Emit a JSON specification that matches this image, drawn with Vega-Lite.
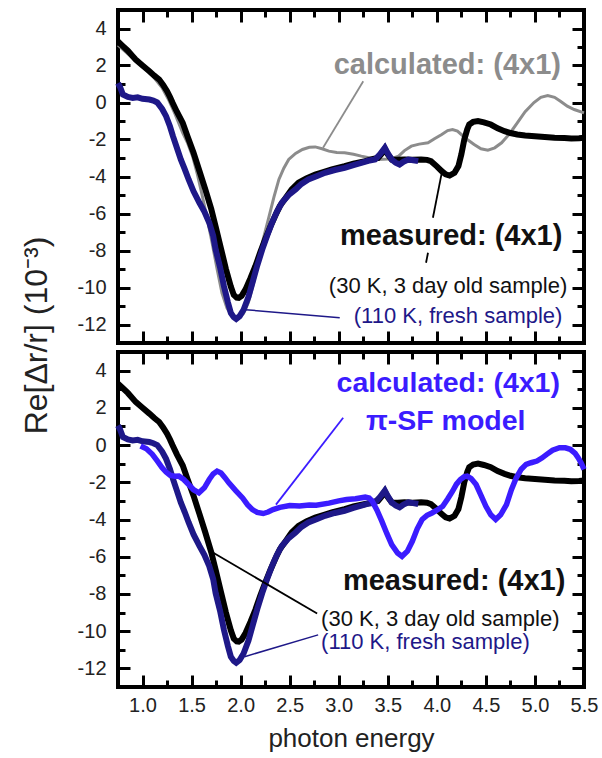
{
  "$schema": "https://vega.github.io/schema/vega-lite/v6.json",
  "padding": {"left": 17, "top": 6, "right": 0, "bottom": 0},
  "background": "white",
  "bounds": "flush",
  "config": {
    "font": "Liberation Sans",
    "view": {"stroke": "black", "strokeWidth": 4},
    "axis": {"grid": false, "domain": false, "tickColor": "black", "tickWidth": 3, "labelFont": "Liberation Sans", "labelFontSize": 20, "labelColor": "#222222", "labelFlush": false, "titleFont": "Liberation Sans", "titleFontWeight": "normal", "titleColor": "#222222"}
  },
  "datasets": {
    "m30": [
      {"x":0.75,"y":3.3},{"x":0.8,"y":3.05},{"x":0.85,"y":2.8},{"x":0.9,"y":2.5},{"x":0.93,"y":2.32},{"x":1.0,"y":2.0},{"x":1.07,"y":1.69},{"x":1.12,"y":1.45},{"x":1.17,"y":1.24},{"x":1.21,"y":0.95},{"x":1.25,"y":0.61},{"x":1.28,"y":0.3},{"x":1.305,"y":0.0},{"x":1.35,"y":-0.5},{"x":1.41,"y":-1.1},{"x":1.46,"y":-1.85},{"x":1.52,"y":-2.72},{"x":1.58,"y":-3.7},{"x":1.64,"y":-4.7},{"x":1.7,"y":-5.75},{"x":1.745,"y":-6.7},{"x":1.8,"y":-7.9},{"x":1.85,"y":-9.0},{"x":1.9,"y":-9.95},{"x":1.93,"y":-10.4},{"x":1.96,"y":-10.55},{"x":1.98,"y":-10.56},{"x":2.01,"y":-10.45},{"x":2.05,"y":-10.1},{"x":2.1,"y":-9.5},{"x":2.15,"y":-8.85},{"x":2.2,"y":-8.1},{"x":2.25,"y":-7.4},{"x":2.3,"y":-6.75},{"x":2.35,"y":-6.15},{"x":2.4,"y":-5.6},{"x":2.46,"y":-5.15},{"x":2.52,"y":-4.7},{"x":2.59,"y":-4.34},{"x":2.67,"y":-4.1},{"x":2.76,"y":-3.89},{"x":2.85,"y":-3.75},{"x":2.93,"y":-3.62},{"x":3.0,"y":-3.52},{"x":3.06,"y":-3.44},{"x":3.15,"y":-3.3},{"x":3.27,"y":-3.17},{"x":3.35,"y":-3.05},{"x":3.4,"y":-3.0},{"x":3.44,"y":-2.75},{"x":3.47,"y":-2.5},{"x":3.5,"y":-2.8},{"x":3.54,"y":-3.08},{"x":3.6,"y":-3.1},{"x":3.67,"y":-3.08},{"x":3.75,"y":-3.1},{"x":3.84,"y":-3.08},{"x":3.9,"y":-3.1},{"x":3.94,"y":-3.17},{"x":4.0,"y":-3.45},{"x":4.05,"y":-3.71},{"x":4.09,"y":-3.88},{"x":4.13,"y":-3.95},{"x":4.18,"y":-3.8},{"x":4.22,"y":-3.44},{"x":4.25,"y":-2.8},{"x":4.28,"y":-2.0},{"x":4.31,"y":-1.45},{"x":4.33,"y":-1.19},{"x":4.37,"y":-1.05},{"x":4.42,"y":-1.0},{"x":4.48,"y":-1.07},{"x":4.55,"y":-1.19},{"x":4.62,"y":-1.4},{"x":4.69,"y":-1.55},{"x":4.75,"y":-1.65},{"x":4.82,"y":-1.73},{"x":4.9,"y":-1.78},{"x":5.0,"y":-1.82},{"x":5.1,"y":-1.86},{"x":5.2,"y":-1.9},{"x":5.3,"y":-1.92},{"x":5.37,"y":-1.95},{"x":5.45,"y":-1.93},{"x":5.5,"y":-1.9}
    ],
    "m110": [
      {"x":0.75,"y":1.05},{"x":0.77,"y":0.85},{"x":0.8,"y":0.43},{"x":0.85,"y":0.3},{"x":0.9,"y":0.25},{"x":0.95,"y":0.28},{"x":1.0,"y":0.2},{"x":1.07,"y":0.16},{"x":1.11,"y":0.1},{"x":1.15,"y":0.0},{"x":1.2,"y":-0.35},{"x":1.24,"y":-0.74},{"x":1.28,"y":-1.3},{"x":1.31,"y":-1.82},{"x":1.35,"y":-2.45},{"x":1.39,"y":-3.08},{"x":1.43,"y":-3.6},{"x":1.47,"y":-4.16},{"x":1.52,"y":-4.8},{"x":1.58,"y":-5.42},{"x":1.63,"y":-5.9},{"x":1.68,"y":-6.5},{"x":1.72,"y":-7.2},{"x":1.745,"y":-7.95},{"x":1.79,"y":-8.9},{"x":1.83,"y":-9.93},{"x":1.87,"y":-10.8},{"x":1.9,"y":-11.37},{"x":1.93,"y":-11.6},{"x":1.955,"y":-11.7},{"x":1.99,"y":-11.55},{"x":2.03,"y":-11.2},{"x":2.08,"y":-10.5},{"x":2.12,"y":-9.75},{"x":2.17,"y":-8.8},{"x":2.22,"y":-7.95},{"x":2.27,"y":-7.2},{"x":2.32,"y":-6.5},{"x":2.37,"y":-5.9},{"x":2.42,"y":-5.42},{"x":2.49,"y":-5.0},{"x":2.56,"y":-4.7},{"x":2.62,"y":-4.4},{"x":2.69,"y":-4.16},{"x":2.78,"y":-3.97},{"x":2.86,"y":-3.8},{"x":2.96,"y":-3.65},{"x":3.06,"y":-3.53},{"x":3.15,"y":-3.38},{"x":3.23,"y":-3.26},{"x":3.3,"y":-3.15},{"x":3.37,"y":-3.08},{"x":3.42,"y":-2.8},{"x":3.47,"y":-2.45},{"x":3.5,"y":-2.75},{"x":3.54,"y":-3.08},{"x":3.58,"y":-3.25},{"x":3.62,"y":-3.35},{"x":3.66,"y":-3.2},{"x":3.71,"y":-3.08},{"x":3.76,"y":-3.12},{"x":3.81,"y":-3.17}
    ],
    "calcTop": [
      {"x":0.75,"y":3.1},{"x":0.9,"y":2.4},{"x":1.0,"y":1.95},{"x":1.1,"y":1.45},{"x":1.2,"y":0.8},{"x":1.27,"y":0.1},{"x":1.33,"y":-0.6},{"x":1.41,"y":-1.64},{"x":1.46,"y":-2.2},{"x":1.51,"y":-2.9},{"x":1.56,"y":-3.9},{"x":1.61,"y":-5.06},{"x":1.66,"y":-6.3},{"x":1.71,"y":-7.6},{"x":1.76,"y":-9.0},{"x":1.81,"y":-10.3},{"x":1.86,"y":-11.1},{"x":1.91,"y":-11.55},{"x":1.98,"y":-11.65},{"x":2.03,"y":-11.4},{"x":2.08,"y":-10.8},{"x":2.13,"y":-9.8},{"x":2.18,"y":-8.67},{"x":2.23,"y":-7.4},{"x":2.29,"y":-6.15},{"x":2.34,"y":-5.1},{"x":2.39,"y":-4.16},{"x":2.44,"y":-3.55},{"x":2.49,"y":-3.08},{"x":2.56,"y":-2.75},{"x":2.63,"y":-2.54},{"x":2.7,"y":-2.42},{"x":2.76,"y":-2.4},{"x":2.83,"y":-2.5},{"x":2.9,"y":-2.63},{"x":2.98,"y":-2.7},{"x":3.06,"y":-2.72},{"x":3.15,"y":-2.8},{"x":3.23,"y":-2.9},{"x":3.32,"y":-3.0},{"x":3.4,"y":-3.08},{"x":3.5,"y":-3.05},{"x":3.56,"y":-3.0},{"x":3.61,"y":-2.9},{"x":3.67,"y":-2.6},{"x":3.74,"y":-2.36},{"x":3.82,"y":-2.25},{"x":3.91,"y":-2.18},{"x":3.98,"y":-1.95},{"x":4.05,"y":-1.73},{"x":4.11,"y":-1.52},{"x":4.16,"y":-1.46},{"x":4.21,"y":-1.55},{"x":4.25,"y":-1.73},{"x":4.31,"y":-2.0},{"x":4.38,"y":-2.27},{"x":4.45,"y":-2.5},{"x":4.52,"y":-2.58},{"x":4.59,"y":-2.45},{"x":4.66,"y":-2.18},{"x":4.74,"y":-1.7},{"x":4.82,"y":-1.1},{"x":4.9,"y":-0.5},{"x":4.99,"y":0.0},{"x":5.06,"y":0.28},{"x":5.13,"y":0.38},{"x":5.2,"y":0.28},{"x":5.26,"y":0.07},{"x":5.33,"y":-0.2},{"x":5.4,"y":-0.38},{"x":5.5,"y":-0.56}
    ],
    "calcBottom": [
      {"x":0.98,"y":-0.05},{"x":1.04,"y":-0.2},{"x":1.1,"y":-0.5},{"x":1.15,"y":-0.85},{"x":1.2,"y":-1.22},{"x":1.24,"y":-1.45},{"x":1.28,"y":-1.62},{"x":1.33,"y":-1.68},{"x":1.37,"y":-1.67},{"x":1.42,"y":-1.85},{"x":1.47,"y":-2.12},{"x":1.52,"y":-2.4},{"x":1.575,"y":-2.57},{"x":1.63,"y":-2.3},{"x":1.68,"y":-1.85},{"x":1.72,"y":-1.55},{"x":1.76,"y":-1.4},{"x":1.8,"y":-1.5},{"x":1.84,"y":-1.75},{"x":1.88,"y":-2.03},{"x":1.95,"y":-2.45},{"x":2.02,"y":-2.84},{"x":2.07,"y":-3.2},{"x":2.12,"y":-3.47},{"x":2.17,"y":-3.62},{"x":2.23,"y":-3.68},{"x":2.28,"y":-3.6},{"x":2.33,"y":-3.47},{"x":2.4,"y":-3.35},{"x":2.5,"y":-3.25},{"x":2.6,"y":-3.27},{"x":2.7,"y":-3.22},{"x":2.77,"y":-3.23},{"x":2.9,"y":-3.12},{"x":3.0,"y":-3.0},{"x":3.08,"y":-2.93},{"x":3.17,"y":-2.88},{"x":3.27,"y":-2.8},{"x":3.31,"y":-2.85},{"x":3.34,"y":-3.0},{"x":3.39,"y":-3.5},{"x":3.44,"y":-4.1},{"x":3.49,"y":-4.75},{"x":3.54,"y":-5.35},{"x":3.6,"y":-5.8},{"x":3.645,"y":-5.98},{"x":3.7,"y":-5.7},{"x":3.75,"y":-5.17},{"x":3.8,"y":-4.5},{"x":3.85,"y":-4.0},{"x":3.9,"y":-3.78},{"x":3.95,"y":-3.65},{"x":4.0,"y":-3.5},{"x":4.06,"y":-3.29},{"x":4.11,"y":-2.9},{"x":4.16,"y":-2.48},{"x":4.2,"y":-2.1},{"x":4.24,"y":-1.85},{"x":4.28,"y":-1.7},{"x":4.31,"y":-1.67},{"x":4.35,"y":-1.8},{"x":4.4,"y":-2.12},{"x":4.45,"y":-2.7},{"x":4.5,"y":-3.29},{"x":4.55,"y":-3.75},{"x":4.6,"y":-4.0},{"x":4.65,"y":-3.75},{"x":4.71,"y":-3.2},{"x":4.76,"y":-2.4},{"x":4.81,"y":-1.76},{"x":4.86,"y":-1.3},{"x":4.91,"y":-1.04},{"x":4.96,"y":-0.95},{"x":5.02,"y":-0.86},{"x":5.07,"y":-0.7},{"x":5.12,"y":-0.5},{"x":5.18,"y":-0.28},{"x":5.25,"y":-0.14},{"x":5.31,"y":-0.15},{"x":5.36,"y":-0.23},{"x":5.41,"y":-0.45},{"x":5.44,"y":-0.68},{"x":5.47,"y":-0.95},{"x":5.5,"y":-1.31}
    ]
  },
  "spacing": 9,
  "vconcat": [
    {
      "width": 466, "height": 333,
      "resolve": {"axis": {"x": "independent", "y": "independent"}},
      "layer": [
        {"mark": {"type": "rule", "color": "black", "strokeWidth": 2.5},
         "encoding": {"y": {"datum": 0, "type": "quantitative", "scale": {"domain": [-13, 5], "nice": false, "zero": false}, "axis": null}}},
        {"data": {"name": "calcTop"}, "mark": {"type": "line", "color": "#8c8c8c", "strokeWidth": 3},
         "encoding": {
           "x": {"field": "x", "type": "quantitative", "scale": {"domain": [0.75, 5.5], "nice": false, "zero": false}, "axis": {"orient": "top", "values": [1,1.5,2,2.5,3,3.5,4,4.5,5,5.5], "tickSize": -12, "labels": false, "title": null}},
           "y": {"field": "y", "type": "quantitative", "scale": {"domain": [-13, 5], "nice": false, "zero": false}, "axis": {"orient": "right", "values": [-12,-10,-8,-6,-4,-2,0,2,4], "tickSize": -12, "labels": false, "title": null}}
         }},
        {"data": {"name": "m30"}, "mark": {"type": "line", "color": "black", "strokeWidth": 6},
         "encoding": {
           "x": {"field": "x", "type": "quantitative", "scale": {"domain": [0.75, 5.5], "nice": false, "zero": false}, "axis": {"orient": "bottom", "values": [1,1.5,2,2.5,3,3.5,4,4.5,5,5.5], "tickSize": -12, "labels": false, "title": null}},
           "y": {"field": "y", "type": "quantitative", "scale": {"domain": [-13, 5], "nice": false, "zero": false}, "axis": {"orient": "left", "values": [-12,-10,-8,-6,-4,-2,0,2,4], "tickSize": -12, "labelPadding": 24, "labelExpr": "datum.value < 0 ? '-' + abs(datum.value) : '' + datum.value", "title": null}}
         }},
        {"data": {"name": "m110"}, "mark": {"type": "line", "color": "#1e1888", "strokeWidth": 6},
         "encoding": {
           "x": {"field": "x", "type": "quantitative", "scale": {"domain": [0.75, 5.5], "nice": false, "zero": false}, "axis": {"orient": "bottom", "values": [1.25,1.75,2.25,2.75,3.25,3.75,4.25,4.75,5.25], "tickSize": -7, "labels": false, "title": null}},
           "y": {"field": "y", "type": "quantitative", "scale": {"domain": [-13, 5], "nice": false, "zero": false}, "axis": {"orient": "left", "values": [-11,-9,-7,-5,-3,-1,1,3], "tickSize": -7, "labels": false, "title": null}}
         }},
        {"data": {"values": [{"x1": 3.25, "y1": 1.15, "x2": 2.84, "y2": -2.45}]},
         "mark": {"type": "rule", "color": "#8c8c8c", "strokeWidth": 1.8},
         "encoding": {
           "x": {"field": "x1", "type": "quantitative", "scale": {"domain": [0.75, 5.5], "nice": false, "zero": false}, "axis": null},
           "y": {"field": "y1", "type": "quantitative", "scale": {"domain": [-13, 5], "nice": false, "zero": false}, "axis": null},
           "x2": {"field": "x2"}, "y2": {"field": "y2"}
         }},
        {"data": {"values": [{"x1": 4.05, "y1": -3.8, "x2": 3.96, "y2": -6.23}, {"x1": 3.91, "y1": -8.12, "x2": 3.89, "y2": -8.66}]},
         "mark": {"type": "rule", "color": "black", "strokeWidth": 1.8},
         "encoding": {
           "x": {"field": "x1", "type": "quantitative", "scale": {"domain": [0.75, 5.5], "nice": false, "zero": false}, "axis": null},
           "y": {"field": "y1", "type": "quantitative", "scale": {"domain": [-13, 5], "nice": false, "zero": false}, "axis": null},
           "x2": {"field": "x2"}, "y2": {"field": "y2"}
         }},
        {"data": {"values": [{"x1": 2.05, "y1": -11.2, "x2": 3.01, "y2": -11.64}]},
         "mark": {"type": "rule", "color": "#1e1888", "strokeWidth": 1.5},
         "encoding": {
           "x": {"field": "x1", "type": "quantitative", "scale": {"domain": [0.75, 5.5], "nice": false, "zero": false}, "axis": null},
           "y": {"field": "y1", "type": "quantitative", "scale": {"domain": [-13, 5], "nice": false, "zero": false}, "axis": null},
           "x2": {"field": "x2"}, "y2": {"field": "y2"}
         }},
        {"data": {"values": [{"x": 5.265, "y": 2.05, "label": "calculated: (4x1)"}]},
         "mark": {"type": "text", "align": "right", "baseline": "middle", "fontSize": 29, "fontWeight": "bold", "color": "#8c8c8c"},
         "encoding": {
           "x": {"field": "x", "type": "quantitative", "scale": {"domain": [0.75, 5.5], "nice": false, "zero": false}, "axis": {"orient": "top", "values": [1.25,1.75,2.25,2.75,3.25,3.75,4.25,4.75,5.25], "tickSize": -7, "labels": false, "title": null}},
           "y": {"field": "y", "type": "quantitative", "scale": {"domain": [-13, 5], "nice": false, "zero": false}, "axis": {"orient": "right", "values": [-11,-9,-7,-5,-3,-1,1,3], "tickSize": -7, "labels": false, "title": null}},
           "text": {"field": "label"}
         }},
        {"data": {"values": [{"x": 5.28, "y": -7.23, "label": "measured: (4x1)"}]},
         "mark": {"type": "text", "align": "right", "baseline": "middle", "fontSize": 29, "fontWeight": "bold", "color": "#111111"},
         "encoding": {
           "x": {"field": "x", "type": "quantitative", "scale": {"domain": [0.75, 5.5], "nice": false, "zero": false}, "axis": null},
           "y": {"field": "y", "type": "quantitative", "scale": {"domain": [-13, 5], "nice": false, "zero": false}, "axis": null},
           "text": {"field": "label"}
         }},
        {"data": {"values": [{"x": 5.33, "y": -9.93, "label": "(30 K, 3 day old sample)"}]},
         "mark": {"type": "text", "align": "right", "baseline": "middle", "fontSize": 22, "color": "#111111"},
         "encoding": {
           "x": {"field": "x", "type": "quantitative", "scale": {"domain": [0.75, 5.5], "nice": false, "zero": false}, "axis": null},
           "y": {"field": "y", "type": "quantitative", "scale": {"domain": [-13, 5], "nice": false, "zero": false}, "axis": null},
           "text": {"field": "label"}
         }},
        {"data": {"values": [{"x": 5.28, "y": -11.55, "label": "(110 K, fresh sample)"}]},
         "mark": {"type": "text", "align": "right", "baseline": "middle", "fontSize": 22, "color": "#1e1888"},
         "encoding": {
           "x": {"field": "x", "type": "quantitative", "scale": {"domain": [0.75, 5.5], "nice": false, "zero": false}, "axis": null},
           "y": {"field": "y", "type": "quantitative", "scale": {"domain": [-13, 5], "nice": false, "zero": false}, "axis": null},
           "text": {"field": "label"}
         }}
      ]
    },
    {
      "width": 466, "height": 335,
      "resolve": {"axis": {"x": "independent", "y": "independent"}},
      "layer": [
        {"mark": {"type": "rule", "color": "black", "strokeWidth": 2.5},
         "encoding": {"y": {"datum": 0, "type": "quantitative", "scale": {"domain": [-13, 5], "nice": false, "zero": false}, "axis": null}}},
        {"data": {"name": "m30"}, "mark": {"type": "line", "color": "black", "strokeWidth": 6},
         "encoding": {
           "x": {"field": "x", "type": "quantitative", "scale": {"domain": [0.75, 5.5], "nice": false, "zero": false}, "axis": {"orient": "bottom", "values": [1,1.5,2,2.5,3,3.5,4,4.5,5,5.5], "tickSize": -12, "labelPadding": 20, "format": ".1f", "title": "photon energy", "titleFontSize": 26, "titlePadding": 10}},
           "y": {"field": "y", "type": "quantitative", "scale": {"domain": [-13, 5], "nice": false, "zero": false}, "axis": {"orient": "left", "values": [-12,-10,-8,-6,-4,-2,0,2,4], "tickSize": -12, "labelPadding": 24, "labelExpr": "datum.value < 0 ? '-' + abs(datum.value) : '' + datum.value", "title": "Re[Δr/r] (10⁻³)", "titleFontSize": 32, "titleAngle": 270, "titleAlign": "center", "titleBaseline": "middle", "titleX": -82, "titleY": -17}}
         }},
        {"data": {"name": "m110"}, "mark": {"type": "line", "color": "#1e1888", "strokeWidth": 6},
         "encoding": {
           "x": {"field": "x", "type": "quantitative", "scale": {"domain": [0.75, 5.5], "nice": false, "zero": false}, "axis": {"orient": "bottom", "values": [1.25,1.75,2.25,2.75,3.25,3.75,4.25,4.75,5.25], "tickSize": -7, "labels": false, "title": null}},
           "y": {"field": "y", "type": "quantitative", "scale": {"domain": [-13, 5], "nice": false, "zero": false}, "axis": {"orient": "left", "values": [-11,-9,-7,-5,-3,-1,1,3], "tickSize": -7, "labels": false, "title": null}}
         }},
        {"data": {"name": "calcBottom"}, "mark": {"type": "line", "color": "#3b1cff", "strokeWidth": 5.5},
         "encoding": {
           "x": {"field": "x", "type": "quantitative", "scale": {"domain": [0.75, 5.5], "nice": false, "zero": false}, "axis": {"orient": "top", "values": [1,1.5,2,2.5,3,3.5,4,4.5,5,5.5], "tickSize": -12, "labels": false, "title": null}},
           "y": {"field": "y", "type": "quantitative", "scale": {"domain": [-13, 5], "nice": false, "zero": false}, "axis": {"orient": "right", "values": [-12,-10,-8,-6,-4,-2,0,2,4], "tickSize": -12, "labels": false, "title": null}}
         }},
        {"data": {"values": [{"x1": 2.36, "y1": -3.2, "x2": 3.045, "y2": 1.47}]},
         "mark": {"type": "rule", "color": "#3b1cff", "strokeWidth": 1.8},
         "encoding": {
           "x": {"field": "x1", "type": "quantitative", "scale": {"domain": [0.75, 5.5], "nice": false, "zero": false}, "axis": null},
           "y": {"field": "y1", "type": "quantitative", "scale": {"domain": [-13, 5], "nice": false, "zero": false}, "axis": null},
           "x2": {"field": "x2"}, "y2": {"field": "y2"}
         }},
        {"data": {"values": [{"x1": 1.695, "y1": -5.71, "x2": 2.78, "y2": -9.05}]},
         "mark": {"type": "rule", "color": "black", "strokeWidth": 1.8},
         "encoding": {
           "x": {"field": "x1", "type": "quantitative", "scale": {"domain": [0.75, 5.5], "nice": false, "zero": false}, "axis": null},
           "y": {"field": "y1", "type": "quantitative", "scale": {"domain": [-13, 5], "nice": false, "zero": false}, "axis": null},
           "x2": {"field": "x2"}, "y2": {"field": "y2"}
         }},
        {"data": {"values": [{"x1": 2.04, "y1": -11.37, "x2": 2.79, "y2": -10.2}]},
         "mark": {"type": "rule", "color": "#1e1888", "strokeWidth": 1.5},
         "encoding": {
           "x": {"field": "x1", "type": "quantitative", "scale": {"domain": [0.75, 5.5], "nice": false, "zero": false}, "axis": null},
           "y": {"field": "y1", "type": "quantitative", "scale": {"domain": [-13, 5], "nice": false, "zero": false}, "axis": null},
           "x2": {"field": "x2"}, "y2": {"field": "y2"}
         }},
        {"data": {"values": [{"x": 5.255, "y": 3.36, "label": "calculated: (4x1)"}]},
         "mark": {"type": "text", "align": "right", "baseline": "middle", "fontSize": 28.5, "fontWeight": "bold", "color": "#3b1cff"},
         "encoding": {
           "x": {"field": "x", "type": "quantitative", "scale": {"domain": [0.75, 5.5], "nice": false, "zero": false}, "axis": {"orient": "top", "values": [1.25,1.75,2.25,2.75,3.25,3.75,4.25,4.75,5.25], "tickSize": -7, "labels": false, "title": null}},
           "y": {"field": "y", "type": "quantitative", "scale": {"domain": [-13, 5], "nice": false, "zero": false}, "axis": {"orient": "right", "values": [-11,-9,-7,-5,-3,-1,1,3], "tickSize": -7, "labels": false, "title": null}},
           "text": {"field": "label"}
         }},
        {"data": {"values": [{"x": 4.09, "y": 1.29, "label": "π-SF model"}]},
         "mark": {"type": "text", "align": "center", "baseline": "middle", "fontSize": 28.5, "fontWeight": "bold", "color": "#3b1cff"},
         "encoding": {
           "x": {"field": "x", "type": "quantitative", "scale": {"domain": [0.75, 5.5], "nice": false, "zero": false}, "axis": null},
           "y": {"field": "y", "type": "quantitative", "scale": {"domain": [-13, 5], "nice": false, "zero": false}, "axis": null},
           "text": {"field": "label"}
         }},
        {"data": {"values": [{"x": 5.31, "y": -7.33, "label": "measured: (4x1)"}]},
         "mark": {"type": "text", "align": "right", "baseline": "middle", "fontSize": 29, "fontWeight": "bold", "color": "#111111"},
         "encoding": {
           "x": {"field": "x", "type": "quantitative", "scale": {"domain": [0.75, 5.5], "nice": false, "zero": false}, "axis": null},
           "y": {"field": "y", "type": "quantitative", "scale": {"domain": [-13, 5], "nice": false, "zero": false}, "axis": null},
           "text": {"field": "label"}
         }},
        {"data": {"values": [{"x": 2.82, "y": -9.35, "label": "(30 K, 3 day old sample)"}]},
         "mark": {"type": "text", "align": "left", "baseline": "middle", "fontSize": 22, "color": "#111111"},
         "encoding": {
           "x": {"field": "x", "type": "quantitative", "scale": {"domain": [0.75, 5.5], "nice": false, "zero": false}, "axis": null},
           "y": {"field": "y", "type": "quantitative", "scale": {"domain": [-13, 5], "nice": false, "zero": false}, "axis": null},
           "text": {"field": "label"}
         }},
        {"data": {"values": [{"x": 2.82, "y": -10.6, "label": "(110 K, fresh sample)"}]},
         "mark": {"type": "text", "align": "left", "baseline": "middle", "fontSize": 22, "color": "#1e1888"},
         "encoding": {
           "x": {"field": "x", "type": "quantitative", "scale": {"domain": [0.75, 5.5], "nice": false, "zero": false}, "axis": null},
           "y": {"field": "y", "type": "quantitative", "scale": {"domain": [-13, 5], "nice": false, "zero": false}, "axis": null},
           "text": {"field": "label"}
         }}
      ]
    }
  ]
}
